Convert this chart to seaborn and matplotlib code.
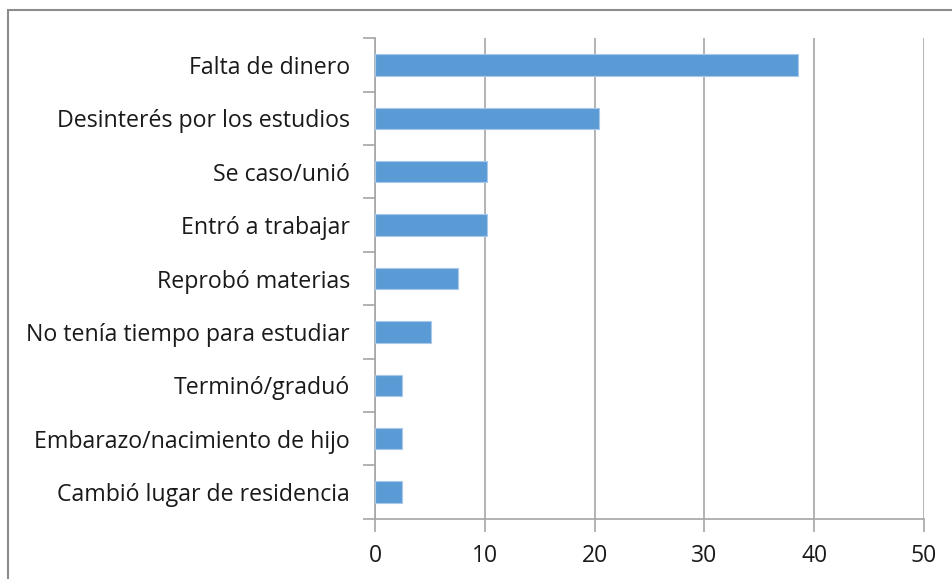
import matplotlib
matplotlib.use("Agg")
import matplotlib.pyplot as plt
import seaborn as sns
import pandas as pd
from matplotlib.patches import Rectangle

razones = ["Falta de dinero", "Desinterés por los estudios", "Se caso/unió",
           "Entró a trabajar", "Reprobó materias", "No tenía tiempo para estudiar",
           "Terminó/graduó", "Embarazo/nacimiento de hijo", "Cambió lugar de residencia"]
porcentaje = [38.5, 20.4, 10.2, 10.2, 7.6, 5.1, 2.5, 2.5, 2.5]
xticks = [0, 10, 20, 30, 40, 50]

df = pd.DataFrame({"razon": razones, "pct": porcentaje})

sns.set_style("white")
plt.rcParams['font.family'] = ['Open Sans', 'DejaVu Sans']

fig = plt.figure(figsize=(9.52, 5.79), dpi=100)
ax = fig.add_axes([375/952, 1 - 518.7/579, (924 - 375)/952, (518.7 - 38.3)/579])

sns.barplot(data=df, x="pct", y="razon", orient="h", color="#5b9bd5",
            width=0.4, edgecolor="#a9c8ea", linewidth=0.8, saturation=1, ax=ax, zorder=3)

gris = "#a6a6a6"
ax.set_xlim(0, 50)
ax.set_ylim(8.5, -0.5)
ax.set_xticks(xticks)
ax.set_xticklabels([str(t) for t in xticks], fontsize=16.5, color="#1a1a1a")
ax.tick_params(axis="y", labelsize=16.7, colors="#1a1a1a", length=0, pad=18)
ax.xaxis.grid(True, color=gris, linewidth=1.2, zorder=0)
ax.set_axisbelow(True)
ax.set_xlabel("")
ax.set_ylabel("")

# ticks de categoría entre barras
ax.set_yticks([i + 0.5 for i in range(-1, 9)], minor=True)
ax.tick_params(axis="y", which="minor", left=True, length=9, color=gris, width=1.2, direction="out")
ax.tick_params(axis="x", bottom=True, length=9, color=gris, width=1.2, direction="out", pad=9)

for s in ["top", "right"]:
    ax.spines[s].set_visible(False)
for s in ["left", "bottom"]:
    ax.spines[s].set_color(gris)
    ax.spines[s].set_linewidth(1.2)

fig.patches.append(Rectangle((8/952, -0.1), 1.2, 1 - 10/579 + 0.1, transform=fig.transFigure,
                             fill=False, edgecolor="#8c8c8c", linewidth=1.5))

fig.savefig("out.png", dpi=100)
